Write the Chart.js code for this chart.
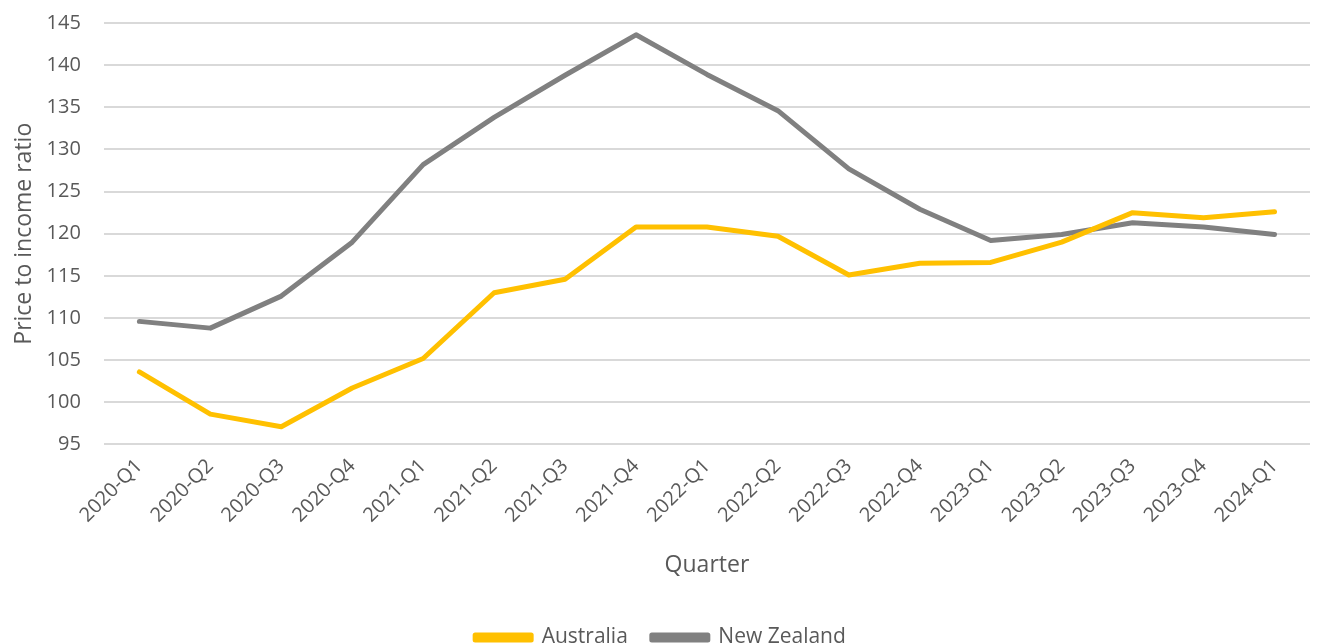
<!DOCTYPE html>
<html><head><meta charset="utf-8">
<script src="https://cdn.jsdelivr.net/npm/chart.js@4"></script>
<style>html,body{margin:0;padding:0;background:#fff;overflow:hidden}</style>
</head><body>
<canvas id="c" width="1319" height="644"></canvas>
<script>
const categories = ["2020-Q1","2020-Q2","2020-Q3","2020-Q4","2021-Q1","2021-Q2","2021-Q3","2021-Q4","2022-Q1","2022-Q2","2022-Q3","2022-Q4","2023-Q1","2023-Q2","2023-Q3","2023-Q4","2024-Q1"];
const australia = [103.6,98.6,97.1,101.7,105.2,113.0,114.6,120.8,120.8,119.7,115.1,116.5,116.6,119.0,122.5,121.9,122.6];
const newZealand = [109.6,108.8,112.6,119.0,128.2,133.8,138.8,143.6,138.9,134.6,127.7,122.9,119.2,119.9,121.3,120.8,119.9];
const yMin = 95, yMax = 145, yStep = 5;
const FONT = "'Open Sans', sans-serif";
const TXT = "#595959";

new Chart(document.getElementById('c'), {
  type: 'line',
  data: {
    labels: categories,
    datasets: [
      {label: 'Australia', data: australia, borderColor: '#FFC000', backgroundColor: '#FFC000', borderWidth: 5, pointRadius: 0, tension: 0, borderCapStyle: 'round', borderJoinStyle: 'round'},
      {label: 'New Zealand', data: newZealand, borderColor: '#808080', backgroundColor: '#808080', borderWidth: 5, pointRadius: 0, tension: 0, borderCapStyle: 'round', borderJoinStyle: 'round'}
    ]
  },
  options: {
    responsive: false,
    animation: false,
    layout: {padding: {top: 23, right: 9, left: 11, bottom: -14}},
    plugins: {
      legend: {
        position: 'bottom',
        labels: {boxWidth: 56, boxHeight: 5, color: TXT, font: {family: FONT, size: 21}, padding: 24}
      },
      tooltip: {enabled: false}
    },
    scales: {
      x: {
        offset: true,
        grid: {display: false},
        border: {display: false},
        ticks: {color: TXT, font: {family: FONT, size: 20}, minRotation: 45, maxRotation: 45, padding: 2},
        title: {display: true, text: 'Quarter', color: TXT, font: {family: FONT, size: 23}, padding: {top: 22, bottom: 24}}
      },
      y: {
        min: yMin, max: yMax,
        grid: {color: '#D9D9D9', lineWidth: 2, drawTicks: true, tickLength: 19, tickColor: 'rgba(0,0,0,0)'},
        border: {display: false},
        ticks: {stepSize: yStep, color: TXT, font: {family: FONT, size: 20}, padding: 4},
        title: {display: true, text: 'Price to income ratio', color: TXT, font: {family: FONT, size: 23}, padding: {top: 0, bottom: 4}}
      }
    }
  }
});
</script>
</body></html>
